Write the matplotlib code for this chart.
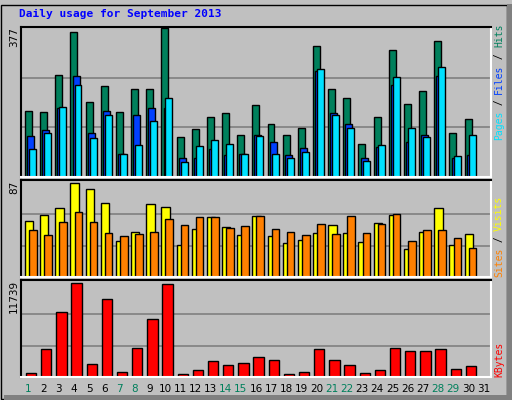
import matplotlib
matplotlib.use('Agg')
import matplotlib.pyplot as plt
import numpy as np

days = list(range(1, 32))
hits = [168, 165, 258, 368, 191, 232, 165, 224, 224, 377, 102, 122, 153, 163, 107,
        183, 135, 107, 124, 333, 224, 201, 83, 153, 323, 186, 219, 346, 112, 148, 0]
files = [104, 119, 175, 257, 111, 168, 58, 158, 175, 175, 48, 48, 71, 55, 58,
         107, 89, 55, 73, 270, 163, 135, 48, 76, 234, 89, 107, 257, 48, 55, 0]
pages = [71, 112, 178, 234, 99, 158, 58, 81, 143, 201, 38, 78, 94, 83, 58,
         104, 58, 48, 63, 273, 158, 124, 40, 81, 255, 124, 102, 278, 53, 107, 0]
visits = [52, 57, 64, 87, 81, 68, 33, 42, 67, 65, 30, 44, 55, 46, 39,
          56, 38, 31, 34, 41, 48, 41, 32, 50, 57, 26, 42, 64, 30, 40, 0]
sites = [43, 39, 51, 60, 51, 41, 38, 40, 42, 54, 48, 55, 55, 45, 47,
         56, 44, 42, 39, 49, 40, 56, 41, 49, 58, 33, 43, 43, 36, 27, 0]
kbytes = [468, 3530, 8124, 11739, 1616, 9782, 595, 3657, 7230, 11569, 340, 851, 1999, 1489, 1744,
          2509, 2127, 340, 595, 3530, 2127, 1489, 468, 851, 3657, 3275, 3275, 3530, 978, 1361, 0]
weekend = [1, 7, 8, 14, 15, 21, 22, 28, 29]

W, H = 512, 400
fig = plt.figure(figsize=(5.12, 4.0), dpi=100, facecolor='#C0C0C0')
mono = 'DejaVu Sans Mono'

def mkax(top, bottom):
    ax = fig.add_axes([21 / W, 1 - bottom / H, 470 / W, (bottom - top) / H])
    ax.set_facecolor('#C0C0C0')
    ax.set_xlim(0, 31)
    ax.set_xticks([])
    ax.set_yticks([])
    for s in ['top', 'left']:
        ax.spines[s].set_color('black')
    for s in ['bottom', 'right']:
        ax.spines[s].set_color('white')
    for s in ax.spines.values():
        s.set_linewidth(1.5)
    return ax

x = np.array(days) - 1.0

# hits / files / pages
ax1 = mkax(27, 177)
top1 = max(hits)
ax1.set_ylim(0, top1 * 1.01)
for g in (top1 / 3, 2 * top1 / 3):
    ax1.axhline(g, color='#808080', lw=1.2, zorder=0)
kw = dict(align='edge', edgecolor='black', linewidth=1)
ax1.bar(x + 0.26, hits, 0.46, color='#00805C', **kw)
ax1.bar(x + 0.40, files, 0.46, color='#0040FF', **kw)
ax1.bar(x + 0.53, pages, 0.46, color='#00E0FF', **kw)

# visits / sites
ax2 = mkax(180, 277)
top2 = max(visits)
ax2.set_ylim(0, top2 * 1.03)
for g in (top2 / 3, 2 * top2 / 3):
    ax2.axhline(g, color='#808080', lw=1.2, zorder=0)
ax2.bar(x + 0.26, visits, 0.55, color='#FFFF00', **kw)
ax2.bar(x + 0.53, sites, 0.50, color='#FF8000', **kw)

# kbytes
ax3 = mkax(280, 377)
top3 = max(kbytes)
ax3.set_ylim(0, top3 * 1.03)
for g in (top3 / 3, 2 * top3 / 3):
    ax3.axhline(g, color='#808080', lw=1.2, zorder=0)
ax3.bar(x + 0.33, kbytes, 0.68, color='#FF0000', **kw)

# day labels
for d in days:
    fig.text((21 + (d - 0.5) * 470 / 31) / W, 1 - 389 / H, str(d), ha='center', va='center',
             fontsize=7.5, color='#00805C' if d in weekend else 'black')

fig.text(19 / W, 1 - 14 / H, 'Daily usage for September 2013', fontsize=8, fontweight='bold',
         family=mono, color='#0000FF', va='center')

# max labels
for txt, ytop in [('377', 27), ('87', 181), ('11739', 280)]:
    fig.text(14 / W, 1 - ytop / H, txt, rotation=90, ha='center', va='top', fontsize=7.5)

# right side legends
def side(parts, ybottom):
    y = ybottom
    for t, c in parts:
        fig.text(499 / W, 1 - y / H, t, rotation=90, ha='center', va='bottom',
                 family=mono, fontsize=7, color=c)
        y -= len(t) * 5.8

side([('Pages', '#00E0FF'), (' / ', 'black'), ('Files', '#0040FF'),
      (' / ', 'black'), ('Hits', '#00805C')], 140)
side([('Sites', '#FF8000'), (' / ', 'black'), ('Visits', '#FFFF00')], 277)
side([('KBytes', '#FF0000')], 377)

# outer bevel
fr = plt.Rectangle((1 / W, 1 / H), 1 - 6 / W, 1 - 6 / H, transform=fig.transFigure,
                   fill=False, edgecolor='black', lw=1)
fig.patches.append(fr)
fig.patches.append(plt.Rectangle((1 - 5 / W, 0), 5 / W, 1 - 4 / H, transform=fig.transFigure,
                                 color='#808080', lw=0))
fig.patches.append(plt.Rectangle((4 / W, 0), 1 - 4 / W, 5 / H, transform=fig.transFigure,
                                 color='#808080', lw=0))

fig.savefig('out.png', dpi=100, facecolor=fig.get_facecolor())
